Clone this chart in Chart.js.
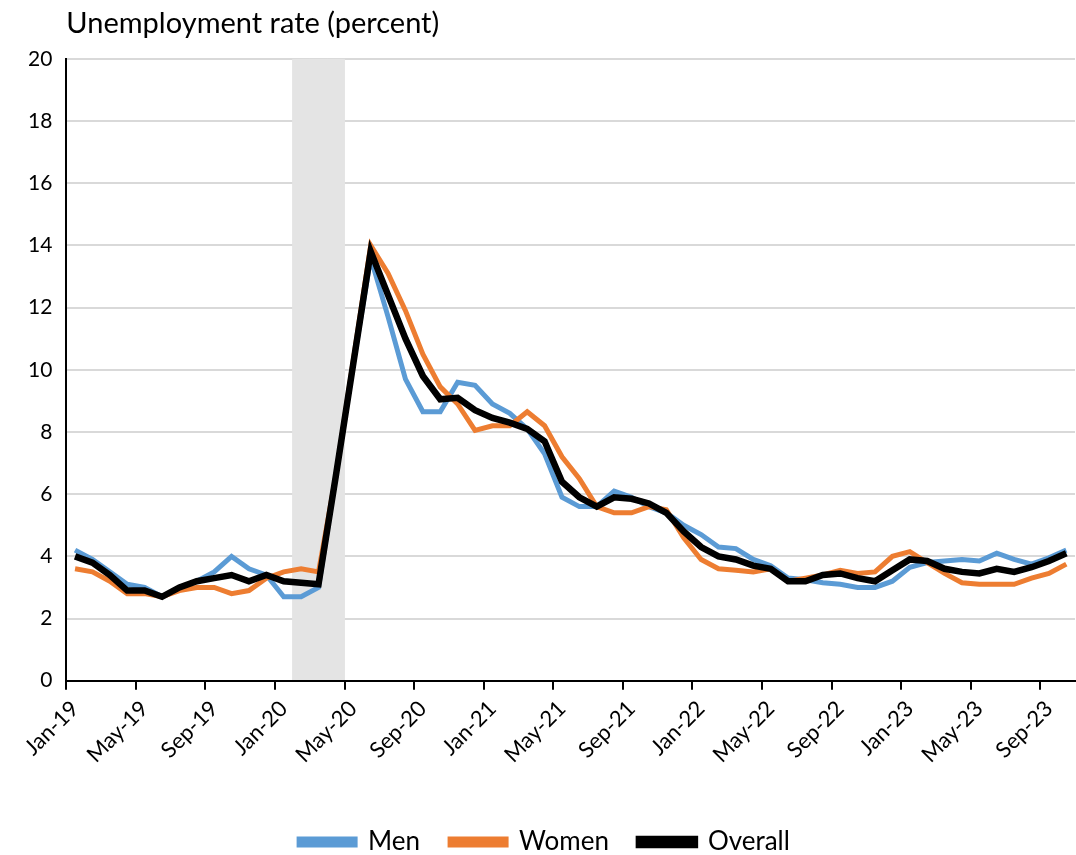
<!DOCTYPE html>
<html><head><meta charset="utf-8">
<script src="https://cdn.jsdelivr.net/npm/chart.js@4"></script>
<style>body{margin:0;background:#fff}#w{width:1076px;height:855px}</style>
</head><body><div id="w"><canvas id="c"></canvas></div>
<script>
const months=["Jan","Feb","Mar","Apr","May","Jun","Jul","Aug","Sep","Oct","Nov","Dec"];
const labels=[];for(let y=19;y<=23;y++)for(let m=0;m<12;m++){if(y===23&&m>9)break;labels.push(months[m]+"-"+y);}
const men=[4.2,3.9,3.5,3.1,3.0,2.7,3.0,3.2,3.5,4.0,3.6,3.4,
2.7,2.7,3.0,6.6,10.2,13.6,11.7,9.7,8.65,8.65,9.6,9.5,
8.9,8.6,8.1,7.3,5.9,5.6,5.6,6.1,5.9,5.6,5.4,5.0,
4.7,4.3,4.25,3.9,3.7,3.3,3.25,3.15,3.1,3.0,3.0,3.2,
3.65,3.8,3.85,3.9,3.85,4.1,3.9,3.75,3.95,4.2];
const women=[3.6,3.5,3.2,2.8,2.8,2.7,2.9,3.0,3.0,2.8,2.9,3.3,
3.5,3.6,3.5,6.6,10.3,14.0,13.1,11.9,10.5,9.45,8.9,8.05,
8.2,8.2,8.65,8.2,7.2,6.5,5.6,5.4,5.4,5.6,5.5,4.6,
3.9,3.6,3.55,3.5,3.6,3.2,3.3,3.4,3.55,3.45,3.5,4.0,
4.15,3.8,3.45,3.15,3.1,3.1,3.1,3.3,3.45,3.75];
const overall=[4.0,3.8,3.4,2.9,2.9,2.7,3.0,3.2,3.3,3.4,3.2,3.4,
3.2,3.15,3.1,6.6,10.2,13.8,12.4,11.0,9.8,9.05,9.1,8.7,
8.45,8.3,8.1,7.7,6.4,5.9,5.6,5.9,5.85,5.7,5.4,4.8,
4.3,4.0,3.9,3.7,3.6,3.2,3.2,3.4,3.45,3.3,3.2,3.55,
3.9,3.85,3.6,3.5,3.45,3.6,3.5,3.65,3.85,4.1];
const recession=labels.map(l=>["Feb-20","Mar-20","Apr-20"].includes(l)?20:null);
const F="Lato, 'Open Sans', sans-serif";
new Chart(document.getElementById('c'),{
data:{labels,datasets:[
{type:'line',label:'Men',data:men,borderColor:'#5b9bd5',backgroundColor:'#5b9bd5',borderWidth:5,pointRadius:0,tension:0,order:3},
{type:'line',label:'Women',data:women,borderColor:'#ed7d31',backgroundColor:'#ed7d31',borderWidth:5,pointRadius:0,tension:0,order:2},
{type:'line',label:'Overall',data:overall,borderColor:'#000',backgroundColor:'#000',borderWidth:6.5,pointRadius:0,tension:0,order:1},
{type:'bar',label:'rec',data:recession,backgroundColor:'#e4e4e4',barPercentage:1,categoryPercentage:1,order:10}
]},
options:{responsive:true,maintainAspectRatio:false,animation:false,
layout:{padding:{left:14,right:1,top:6,bottom:-10}},
plugins:{
title:{display:true,fullSize:false,text:'Unemployment rate (percent)',align:'start',color:'#000',font:{family:F,size:29,weight:'normal'},padding:{top:0,bottom:18}},
legend:{position:'bottom',labels:{sort:(a,b)=>a.datasetIndex-b.datasetIndex,filter:i=>i.text!=='rec',color:'#000',font:{family:F,size:26},boxWidth:56,boxHeight:6,padding:30},
},tooltip:{enabled:false}},
scales:{
x:{offset:true,afterFit:s=>{s.paddingRight=0;s.height+=25;},grid:{offset:true,drawOnChartArea:false,drawTicks:true,tickLength:9,color:c=>c.index%4===0?'#000':'rgba(0,0,0,0)',lineWidth:2},
border:{color:'#000',width:2},
ticks:{autoSkip:false,maxRotation:45,minRotation:45,color:'#000',font:{family:F,size:22},padding:6,callback:(v,i)=>i%4===0?labels[i]:''}},
y:{min:0,max:20,ticks:{stepSize:2,color:'#000',font:{family:F,size:21},padding:14},
grid:{color:'#d9d9d9',lineWidth:2,tickLength:0},border:{color:'#000',width:2}}
}}});
</script></body></html>
